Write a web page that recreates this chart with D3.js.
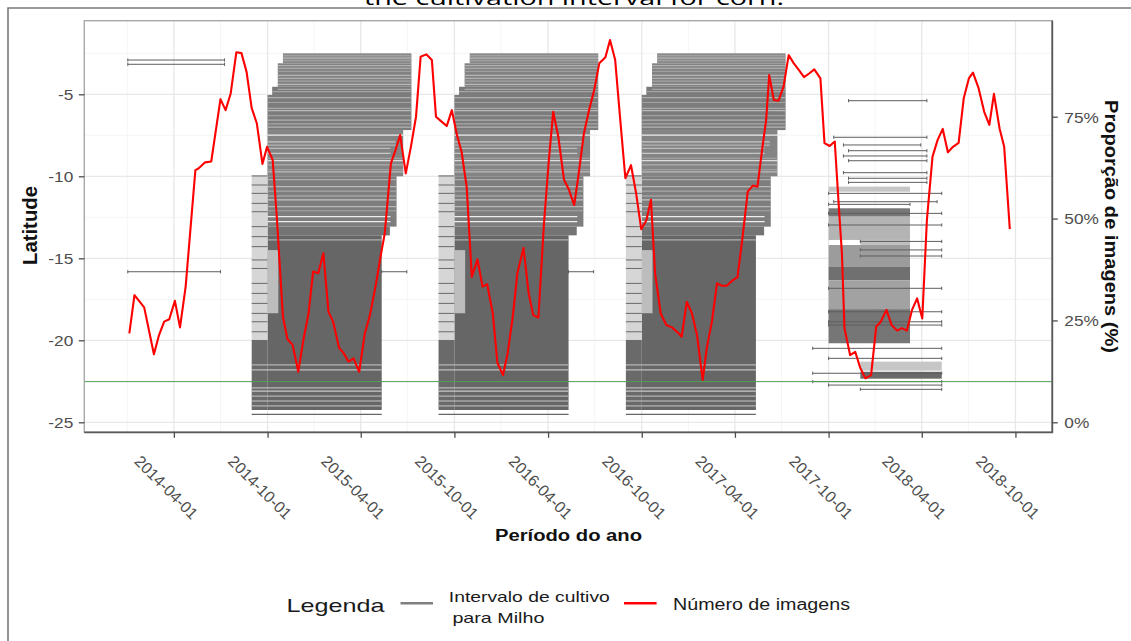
<!DOCTYPE html>
<html>
<head>
<meta charset="utf-8">
<script src="https://cdn.jsdelivr.net/npm/d3@7"></script>
<style>
  body { margin: 0; background: #fff; }
  svg { display: block; }
  text { font-family: "Liberation Sans", Arial, sans-serif; }
</style>
</head>
<body>
<svg id="chart"></svg>
<script>
const parse = d3.utcParse("%Y-%m-%d");

// axes
const tickDates = ["2014-04-01", "2014-10-01", "2015-04-01", "2015-10-01", "2016-04-01",
                   "2016-10-01", "2017-04-01", "2017-10-01", "2018-04-01", "2018-10-01"];
const minorDates = ["2013-12-31", "2014-07-01", "2014-12-31", "2015-07-01", "2015-12-31",
                    "2016-07-01", "2016-12-31", "2017-07-01", "2017-12-31", "2018-07-01"];
const latTicks = [-25, -20, -15, -10, -5];
const latMinor = [-22.5, -17.5, -12.5, -7.5, -2.5];
const pctTicks = [0, 25, 50, 75];

// red series: share of images (%)
const imageDates = [
  "2014-01-04","2014-01-14","2014-02-02","2014-02-21","2014-03-03","2014-03-13","2014-03-23","2014-04-03",
  "2014-04-13","2014-04-24","2014-05-13","2014-05-19","2014-06-01","2014-06-13","2014-07-01","2014-07-11",
  "2014-07-21","2014-08-01","2014-08-11","2014-08-21","2014-08-31","2014-09-10","2014-09-21","2014-09-30",
  "2014-10-11","2014-10-19","2014-10-31","2014-11-09","2014-11-19","2014-11-30","2014-12-10","2014-12-20",
  "2014-12-29","2015-01-08","2015-01-18","2015-01-28","2015-02-06","2015-02-18","2015-02-26","2015-03-08",
  "2015-03-18","2015-03-29","2015-04-09","2015-04-19","2015-05-01","2015-05-09","2015-05-18","2015-05-30",
  "2015-06-08","2015-06-17","2015-06-28","2015-07-08","2015-07-18","2015-07-27","2015-08-07","2015-08-18",
  "2015-08-26","2015-09-06","2015-09-16","2015-09-26","2015-10-06","2015-10-15","2015-10-25","2015-11-04",
  "2015-11-15","2015-11-25","2015-12-04","2015-12-15","2015-12-24","2016-01-04","2016-01-13","2016-01-23",
  "2016-02-01","2016-02-13","2016-02-23","2016-03-03","2016-03-13","2016-03-24","2016-04-02","2016-04-11",
  "2016-04-21","2016-05-02","2016-05-12","2016-05-22","2016-05-30","2016-06-10","2016-06-20","2016-06-30",
  "2016-07-10","2016-07-22","2016-07-31","2016-08-10","2016-08-20","2016-08-30","2016-09-10","2016-09-20",
  "2016-09-30","2016-10-10","2016-10-19","2016-10-27","2016-11-07","2016-11-18","2016-11-29","2016-12-09",
  "2016-12-18","2016-12-28","2017-01-07","2017-01-17","2017-01-28","2017-02-05","2017-02-15","2017-02-25",
  "2017-03-07","2017-03-16","2017-03-26","2017-04-06","2017-04-16","2017-04-26","2017-05-06","2017-05-15",
  "2017-05-24","2017-06-01","2017-06-07","2017-06-16","2017-06-25","2017-07-05","2017-07-15","2017-07-25",
  "2017-08-03","2017-08-14","2017-08-24","2017-09-03","2017-09-15","2017-09-23","2017-10-03","2017-10-13",
  "2017-10-21","2017-10-27","2017-11-01","2017-11-12","2017-11-22","2017-12-02","2017-12-12","2017-12-23",
  "2018-01-02","2018-01-11","2018-01-22","2018-02-01","2018-02-12","2018-02-21","2018-03-03","2018-03-13",
  "2018-03-23","2018-04-02","2018-04-11","2018-04-22","2018-05-02","2018-05-12","2018-05-22","2018-06-01",
  "2018-06-12","2018-06-22","2018-07-02","2018-07-10","2018-07-21","2018-08-01","2018-08-11","2018-08-20",
  "2018-08-31","2018-09-09","2018-09-20"];
const imagePct = [
  21.8, 31.2, 28.2, 16.7, 21.4, 24.7, 25.3, 29.8, 23.3, 33.3, 61.9, 62.3, 63.8, 64.0, 79.3, 76.6,
  80.7, 90.8, 90.6, 86.0, 77.1, 73.4, 63.4, 67.6, 64.4, 50.5, 25.9, 20.4, 19.0, 12.4, 20.2, 26.7,
  37.0, 36.6, 41.5, 27.1, 24.7, 18.2, 17.1, 14.9, 15.7, 12.4, 21.8, 26.3, 34.1, 40.2, 46.4, 63.6,
  66.8, 70.5, 61.1, 67.6, 75.0, 89.7, 90.3, 88.9, 75.0, 73.8, 72.7, 76.6, 70.5, 66.4, 57.8, 35.7,
  40.0, 33.3, 33.9, 26.7, 14.6, 11.6, 16.9, 25.9, 36.6, 42.8, 31.7, 26.3, 25.7, 48.8, 63.6, 76.2,
  70.1, 59.6, 57.0, 53.3, 60.3, 70.9, 76.6, 81.5, 88.1, 89.6, 93.8, 89.0, 74.2, 59.9, 63.1, 56.2,
  47.4, 49.6, 54.6, 36.6, 26.7, 23.9, 23.3, 22.2, 21.0, 29.6, 26.7, 21.4, 10.4, 18.2, 24.7, 34.1,
  33.5, 33.5, 34.7, 35.6, 45.5, 56.6, 58.1, 57.8, 66.8, 74.2, 85.2, 79.1, 78.9, 82.4, 90.1, 88.1,
  86.6, 84.7, 85.6, 86.6, 84.4, 68.5, 67.8, 68.9, 52.9, 41.5, 23.1, 16.5, 17.3, 13.3, 10.8, 11.6,
  23.5, 24.7, 27.6, 23.9, 22.5, 23.1, 22.5, 27.6, 30.4, 25.5, 49.6, 65.2, 69.3, 72.0, 66.3, 67.6,
  68.6, 79.5, 84.4, 85.8, 82.0, 76.2, 73.0, 80.6, 72.1, 67.6, 47.4];

// crop calendar that repeats in the 2014, 2015 and 2016 seasons
// (day offsets counted from 1 October of the season's first year)
const seasonYears = [2014, 2015, 2016];
const bandStart  = [30, 20, 9, 0, 0, 0, 0, 0, -31, -31, 0];
const bandEnd    = [281, 281, 281, 281, 265, 252, 239, 223, 0, 0, 21];
const bandTop    = [-2.5, -3.11, -4.54, -5.04, -7.18, -10.0, -13.07, -13.6, -9.92, -19.98, -14.5];
const bandBottom = [-3.11, -4.54, -5.04, -7.18, -10.0, -13.07, -13.6, -24.25, -19.98, -24.25, -18.35];
const bandShade  = ["#8a8a8a", "#828282", "#7a7a7a", "#7c7c7c", "#848484", "#7e7e7e", "#747474",
                    "#666666", "#d6d6d6", "#6a6a6a", "#bdbdbd"];

const stripeLat   = [-2.65, -2.8, -2.95, -3.25, -3.42, -3.6, -3.85, -4.03, -4.2, -4.4, -4.7, -4.84,
                     -5.2, -5.5, -5.86, -6.0, -6.3, -6.57, -6.8, -7.0, -7.49, -7.9, -8.1, -8.3,
                     -8.6, -8.9, -9.04, -9.3, -9.6, -9.73, -10.2, -10.63, -10.9, -11.2, -11.44,
                     -11.85, -12.1, -12.46, -12.76, -13.88, -21.5, -21.8, -22.9, -23.1, -23.4,
                     -23.7, -24.0, -24.52];
const stripeStart = [30, 30, 30, 20, 20, 20, 20, 20, 20, 20, 20, 9,
                     0, 0, 0, 0, 0, 0, 0, 0, 0, 0, 0, 0,
                     0, 0, 0, 0, 0, 0, 0, 0, 0, 0, 0,
                     0, 0, 0, 0, 0, -31, -31, -31, -31, -31,
                     -31, -31, -31];
const stripeEnd   = [281, 281, 281, 281, 281, 281, 281, 281, 281, 281, 281, 281,
                     281, 281, 281, 281, 281, 281, 281, 281, 281, 250, 250, 240,
                     240, 265, 265, 265, 265, 265, 252, 252, 252, 252, 252,
                     252, 252, 240, 240, 223, 223, 223, 223, 223, 223,
                     223, 223, 223];
const stripeShade = ["#a8a8a8", "#b5b5b5", "#a0a0a0", "#b0b0b0", "#aaaaaa", "#9e9e9e", "#b4b4b4",
                     "#b0b0b0", "#a4a4a4", "#b8b8b8", "#a8a8a8", "#a5a5a5",
                     "#b0b0b0", "#a4a4a4", "#aaaaaa", "#b8b8b8", "#a2a2a2", "#b0b0b0", "#a8a8a8",
                     "#b4b4b4", "#eeeeee", "#c8c8c8", "#b4b4b4", "#bbbbbb",
                     "#c8c8c8", "#acacac", "#dddddd", "#b0b0b0", "#a8a8a8", "#bbbbbb", "#aeaeae",
                     "#bbbbbb", "#a8a8a8", "#b6b6b6", "#c4c4c4",
                     "#b8b8b8", "#a6a6a6", "#eeeeee", "#f0f0f0", "#b0b0b0", "#b5b5b5", "#c0c0c0",
                     "#bbbbbb", "#c8c8c8", "#b5b5b5",
                     "#c5c5c5", "#b5b5b5", "#666666"];
// intervals that already begin in September
const earlyLat = [-9.98, -10.53, -11.04, -11.65, -12.16, -13.07, -13.68, -14.29, -15.1, -15.62,
                  -16.53, -17.14, -17.75, -18.36, -18.87, -19.48];

// 2017/18 season, dense groups
const blockStart  = ["2017-10-01", "2017-10-01", "2017-10-01", "2017-12-02", "2017-10-01",
                     "2017-10-01", "2017-10-01", "2017-10-01", "2017-12-02", "2017-12-02"];
const blockEnd    = ["2018-03-09", "2018-03-09", "2018-03-09", "2018-03-09", "2018-03-09",
                     "2018-03-09", "2018-03-09", "2018-03-09", "2018-05-10", "2018-05-10"];
const blockTop    = [-10.63, -11.95, -12.46, -13.88, -14.19, -15.5, -16.35, -18.1, -21.3, -21.92];
const blockBottom = [-10.94, -12.46, -13.88, -14.19, -15.5, -16.35, -18.1, -20.18, -21.85, -22.34];
const blockShade  = ["#c6c6c6", "#777777", "#b4b4b4", "#c0c0c0", "#9c9c9c", "#707070", "#a2a2a2",
                     "#767676", "#c6c6c6", "#6a6a6a"];

// single intervals
const ivStart = ["2014-01-01", "2014-01-01", "2014-01-01", "2015-05-12", "2016-05-11",
  "2017-11-09", "2017-10-11", "2017-10-30", "2017-11-09", "2017-10-30", "2017-11-09", "2017-10-30",
  "2017-11-09", "2017-11-09", "2017-10-01", "2017-10-11", "2017-10-01", "2017-10-01", "2017-10-01",
  "2017-12-02", "2017-12-02", "2017-12-02", "2017-10-01", "2017-10-01", "2017-10-01", "2017-10-01",
  "2017-08-31", "2017-10-01", "2017-08-31", "2017-08-31", "2017-10-01", "2017-12-02"];
const ivEnd = ["2014-07-09", "2014-07-09", "2014-07-01", "2015-06-30", "2016-06-29",
  "2018-04-11", "2018-04-11", "2018-03-30", "2018-04-11", "2018-04-11", "2018-04-11", "2018-04-11",
  "2018-04-11", "2018-04-11", "2018-05-10", "2018-05-01", "2018-03-09", "2018-05-10", "2018-05-10",
  "2018-05-10", "2018-05-10", "2018-05-10", "2018-05-10", "2018-05-10", "2018-05-10", "2018-05-10",
  "2018-05-10", "2018-05-10", "2018-05-10", "2018-05-10", "2018-05-10", "2018-05-10"];
const ivLat = [-2.91, -3.17, -15.82, -15.82, -15.82,
  -5.39, -7.62, -8.09, -8.44, -8.76, -9.05, -9.78, -10.12, -10.37, -11.04, -11.55, -11.71, -12.26,
  -12.97, -13.97, -14.49, -14.86, -16.83, -18.26, -18.87, -19.07, -20.49, -21.10, -22.01, -22.52,
  -22.73, -22.99];

const refLat = -22.52;

const W = 1131, H = 641;
const panel = { left: 84.3, right: 1052.3, top: 20.7, bottom: 432.3 };

const svg = d3.select("#chart").attr("width", W).attr("height", H);

const x = d3.scaleUtc()
  .domain([parse("2013-10-08"), parse("2018-12-12")])
  .range([panel.left, panel.right]);
const y = d3.scaleLinear().domain([-25, -5]).range([422.3, 94.3]);
const yR = d3.scaleLinear().domain([0, 75]).range([422.3, 116.7]);

// outer frame and title (cut at the top edge, as in the source page)
svg.append("path").attr("d", `M8,${H + 2}V8H${W + 2}`)
  .attr("fill", "none").attr("stroke", "#7a7a7a").attr("stroke-width", 1.6);
svg.append("text").attr("x", 574).attr("y", 5).attr("text-anchor", "middle")
  .attr("font-size", 20)
  .attr("textLength", 420).attr("lengthAdjust", "spacingAndGlyphs")
  .style("font-family", "'Open Sans', 'Noto Sans', sans-serif")
  .text("the cultivation interval for corn.");

// grid
const grid = svg.append("g");
grid.selectAll(".vmin").data(minorDates).join("line")
  .attr("x1", d => x(parse(d))).attr("x2", d => x(parse(d)))
  .attr("y1", panel.top).attr("y2", panel.bottom)
  .attr("stroke", "#f2f2f2").attr("stroke-width", 0.8);
grid.selectAll(".hmin").data(latMinor).join("line")
  .attr("x1", panel.left).attr("x2", panel.right)
  .attr("y1", d => y(d)).attr("y2", d => y(d))
  .attr("stroke", "#f2f2f2").attr("stroke-width", 0.8);
grid.selectAll(".vmaj").data(tickDates).join("line")
  .attr("x1", d => x(parse(d))).attr("x2", d => x(parse(d)))
  .attr("y1", panel.top).attr("y2", panel.bottom)
  .attr("stroke", "#e8e8e8").attr("stroke-width", 1.3);
grid.selectAll(".hmaj").data(latTicks).join("line")
  .attr("x1", panel.left).attr("x2", panel.right)
  .attr("y1", d => y(d)).attr("y2", d => y(d))
  .attr("stroke", "#e8e8e8").attr("stroke-width", 1.3);

// repeated seasons
const seasons = svg.append("g");
const bands = [], stripes = [], early = [];
seasonYears.forEach(yr => {
  const day = d => d3.utcDay.offset(new Date(Date.UTC(yr, 9, 1)), d);
  bandStart.forEach((s, i) => bands.push({
    x0: day(s), x1: day(bandEnd[i]), top: bandTop[i], bottom: bandBottom[i], fill: bandShade[i]
  }));
  stripeLat.forEach((lat, i) => stripes.push({
    x0: day(stripeStart[i]), x1: day(stripeEnd[i]), lat, stroke: stripeShade[i]
  }));
  earlyLat.forEach(lat => early.push({ x0: day(-31), x1: day(0), lat }));
});
blockStart.forEach((s, i) => bands.push({
  x0: parse(s), x1: parse(blockEnd[i]), top: blockTop[i], bottom: blockBottom[i], fill: blockShade[i]
}));

seasons.selectAll("rect").data(bands).join("rect")
  .attr("x", d => x(d.x0)).attr("width", d => x(d.x1) - x(d.x0))
  .attr("y", d => y(d.top)).attr("height", d => y(d.bottom) - y(d.top))
  .attr("fill", d => d.fill);
seasons.selectAll(".stripe").data(stripes).join("line").attr("class", "stripe")
  .attr("x1", d => x(d.x0)).attr("x2", d => x(d.x1))
  .attr("y1", d => y(d.lat)).attr("y2", d => y(d.lat))
  .attr("stroke", d => d.stroke).attr("stroke-width", 1.2);
seasons.selectAll(".early").data(early).join("line").attr("class", "early")
  .attr("x1", d => x(d.x0)).attr("x2", d => x(d.x1))
  .attr("y1", d => y(d.lat)).attr("y2", d => y(d.lat))
  .attr("stroke", "#6a6a6a").attr("stroke-width", 1);

// single intervals with end whiskers
const intervals = ivStart.map((s, i) => ({ x0: parse(s), x1: parse(ivEnd[i]), lat: ivLat[i] }));
const iv = svg.append("g").attr("stroke", "#5e5e5e").attr("stroke-width", 1);
iv.selectAll(".seg").data(intervals).join("line").attr("class", "seg")
  .attr("x1", d => x(d.x0)).attr("x2", d => x(d.x1))
  .attr("y1", d => y(d.lat)).attr("y2", d => y(d.lat));
iv.selectAll(".w0").data(intervals).join("line").attr("class", "w0")
  .attr("x1", d => x(d.x0)).attr("x2", d => x(d.x0))
  .attr("y1", d => y(d.lat) - 1.6).attr("y2", d => y(d.lat) + 1.6);
iv.selectAll(".w1").data(intervals).join("line").attr("class", "w1")
  .attr("x1", d => x(d.x1)).attr("x2", d => x(d.x1))
  .attr("y1", d => y(d.lat) - 1.6).attr("y2", d => y(d.lat) + 1.6);

// reference latitude
svg.append("line").attr("x1", panel.left).attr("x2", panel.right)
  .attr("y1", y(refLat)).attr("y2", y(refLat))
  .attr("stroke", "#4fa04f").attr("stroke-width", 1);

// share of images
const imageSeries = imageDates.map((d, i) => ({ date: parse(d), pct: imagePct[i] }));
svg.append("path").datum(imageSeries)
  .attr("fill", "none").attr("stroke", "#ff0000").attr("stroke-width", 2.1)
  .attr("stroke-linejoin", "round")
  .attr("d", d3.line().x(d => x(d.date)).y(d => yR(d.pct)));

// panel border
svg.append("rect").attr("x", panel.left).attr("y", panel.top)
  .attr("width", panel.right - panel.left).attr("height", panel.bottom - panel.top)
  .attr("fill", "none").attr("stroke", "#a8a8a8").attr("stroke-width", 1.4);
svg.append("path").attr("d", `M${panel.left},${panel.bottom}H${panel.right}V${panel.top}`)
  .attr("fill", "none").attr("stroke", "#595959").attr("stroke-width", 1.8);

// axes
const axisColor = "#4d4d4d";
const xAxis = svg.append("g").attr("transform", `translate(0,${panel.bottom})`)
  .call(d3.axisBottom(x).tickValues(tickDates.map(parse)).tickSize(5.5).tickFormat(d3.utcFormat("%Y-%m-%d")));
xAxis.select(".domain").remove();
xAxis.selectAll(".tick line").attr("stroke", axisColor).attr("stroke-width", 1.3);
xAxis.selectAll(".tick text")
  .attr("fill", axisColor).attr("font-size", 16).attr("font-family", null)
  .attr("text-anchor", "middle").attr("y", 0).attr("dy", 0)
  .attr("transform", "translate(-12,59) rotate(45)");

const yAxis = svg.append("g").attr("transform", `translate(${panel.left},0)`)
  .call(d3.axisLeft(y).tickValues(latTicks).tickSize(5.5).tickFormat(d3.format("d")));
yAxis.select(".domain").remove();
yAxis.selectAll(".tick line").attr("stroke", axisColor).attr("stroke-width", 1.3);
yAxis.selectAll(".tick text")
  .attr("fill", axisColor).attr("font-size", 15).attr("font-family", null)
  .attr("x", 0).attr("dy", "0.36em")
  .attr("transform", "translate(-11,0) scale(1.15,1)")
  .text(d => d < 0 ? "-" + Math.abs(d) : d);

const yAxisR = svg.append("g").attr("transform", `translate(${panel.right},0)`)
  .call(d3.axisRight(yR).tickValues(pctTicks).tickSize(5.5).tickFormat(d => d + "%"));
yAxisR.select(".domain").remove();
yAxisR.selectAll(".tick line").attr("stroke", axisColor).attr("stroke-width", 1.3);
yAxisR.selectAll(".tick text")
  .attr("fill", axisColor).attr("font-size", 15).attr("font-family", null)
  .attr("x", 0).attr("dy", "0.36em")
  .attr("transform", "translate(12,0) scale(1.15,1)");

// axis titles
svg.append("text").attr("x", 568.5).attr("y", 540.5).attr("text-anchor", "middle")
  .attr("font-size", 16).attr("font-weight", "bold").attr("fill", "#111")
  .attr("textLength", 147).attr("lengthAdjust", "spacingAndGlyphs")
  .text("Período do ano");
svg.append("text").attr("transform", "translate(36.5,225.5) rotate(-90)")
  .attr("text-anchor", "middle").attr("font-size", 20).attr("font-weight", "bold").attr("fill", "#111")
  .attr("textLength", 79).attr("lengthAdjust", "spacingAndGlyphs")
  .text("Latitude");
svg.append("text").attr("transform", "translate(1105,226.5) rotate(90)")
  .attr("text-anchor", "middle").attr("font-size", 19).attr("font-weight", "bold").attr("fill", "#111")
  .attr("textLength", 253).attr("lengthAdjust", "spacingAndGlyphs")
  .text("Proporção de imagens (%)");

// legend
const legend = svg.append("g").attr("fill", "#1a1a1a");
legend.append("text").attr("x", 286.4).attr("y", 611.5).attr("font-size", 19)
  .attr("textLength", 98).attr("lengthAdjust", "spacingAndGlyphs").text("Legenda");
legend.append("line").attr("x1", 400.5).attr("x2", 433).attr("y1", 603.3).attr("y2", 603.3)
  .attr("stroke", "#7f7f7f").attr("stroke-width", 2.4);
legend.append("text").attr("x", 448.8).attr("y", 601.5).attr("font-size", 15)
  .attr("textLength", 161).attr("lengthAdjust", "spacingAndGlyphs").text("Intervalo de cultivo");
legend.append("text").attr("x", 452.4).attr("y", 622.5).attr("font-size", 15)
  .attr("textLength", 92).attr("lengthAdjust", "spacingAndGlyphs").text("para Milho");
legend.append("line").attr("x1", 624).attr("x2", 656.6).attr("y1", 603.3).attr("y2", 603.3)
  .attr("stroke", "#ff0000").attr("stroke-width", 2.4);
legend.append("text").attr("x", 673).attr("y", 610).attr("font-size", 16)
  .attr("textLength", 177).attr("lengthAdjust", "spacingAndGlyphs").text("Número de imagens");
</script>
</body>
</html>
